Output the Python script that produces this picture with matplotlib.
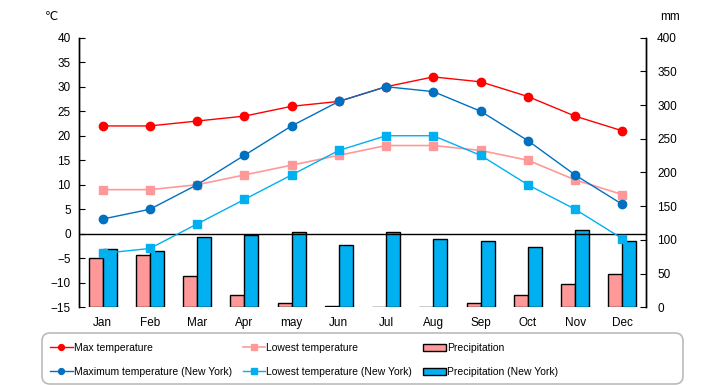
import matplotlib
matplotlib.use("Agg")
import matplotlib.pyplot as plt
from matplotlib.patches import FancyBboxPatch
from matplotlib.transforms import IdentityTransform
import numpy as np

plt.rcParams['font.family'] = ['Liberation Sans', 'DejaVu Sans', 'Noto Sans CJK JP']

months = ['Jan', 'Feb', 'Mar', 'Apr', 'may', 'Jun', 'Jul', 'Aug', 'Sep', 'Oct', 'Nov', 'Dec']

max_temp = [22, 22, 23, 24, 26, 27, 30, 32, 31, 28, 24, 21]
low_temp = [9, 9, 10, 12, 14, 16, 18, 18, 17, 15, 11, 8]
precip = [73, 77, 47, 19, 6, 2, 0.5, 0, 6, 18, 34, 50]

max_temp_ny = [3, 5, 10, 16, 22, 27, 30, 29, 25, 19, 12, 6]
low_temp_ny = [-4, -3, 2, 7, 12, 17, 20, 20, 16, 10, 5, -1]
precip_ny = [86, 83, 104, 107, 111, 92, 111, 102, 99, 89, 114, 99]


def main():
    fig = plt.figure(figsize=(7.2, 3.85), dpi=100)
    # temperature axis on the left, precipitation on the right
    ax_t = fig.add_axes([0.1097, 0.2018, 0.7875, 0.7003])
    ax_p = ax_t.twinx()

    ax_t.set_zorder(ax_p.get_zorder() + 1)
    ax_t.patch.set_visible(False)
    ax_p.set_facecolor('#FFFFCC')

    x = np.arange(len(months))
    w = 0.297

    # bars
    b1 = ax_p.bar(x - w / 2, precip, w, color='#FF9999', edgecolor='black', linewidth=1,
                  label='Precipitation')
    b2 = ax_p.bar(x + w / 2, precip_ny, w, color='#00B0F0', edgecolor='black', linewidth=1,
                  label='Precipitation (New York)')

    # zero line
    ax_t.axhline(0, color='black', linewidth=1, zorder=1)

    # lines
    l1, = ax_t.plot(x, max_temp, color='#FF0000', marker='o', markersize=6, linewidth=1,
                    label='Max temperature')
    l3, = ax_t.plot(x, low_temp, color='#FF9999', marker='s', markersize=6, linewidth=1.2,
                    label='Lowest temperature')
    l2, = ax_t.plot(x, max_temp_ny, color='#0070C0', marker='o', markersize=6, linewidth=1,
                    label='Maximum temperature (New York)')
    l4, = ax_t.plot(x, low_temp_ny, color='#00B0F0', marker='s', markersize=6, linewidth=1,
                    label='Lowest temperature (New York)')

    ax_t.set_xlim(-0.5, 11.5)
    ax_t.set_ylim(-15, 40)
    ax_t.set_yticks(range(-15, 41, 5))
    ax_p.set_ylim(0, 400)
    ax_p.set_yticks(range(0, 401, 50))

    ax_t.set_xticks(x)
    ax_t.set_xticklabels(months)
    ax_t.tick_params(axis='x', length=0, pad=7, labelsize=8.5)
    ax_t.tick_params(axis='y', direction='in', length=4, labelsize=8.5, pad=6)
    ax_p.tick_params(axis='y', direction='in', length=4, labelsize=8.5, pad=8)

    for a in (ax_t, ax_p):
        a.spines['top'].set_visible(False)
        a.spines['bottom'].set_visible(False)
        a.spines['left'].set_linewidth(1)
        a.spines['right'].set_linewidth(1)

    fig.text(52 / 720, 1 - 17 / 385, '℃', fontsize=8.5, ha='center', va='center')
    fig.text(670 / 720, 1 - 17 / 385, 'mm', fontsize=8.5, ha='center', va='center')

    # legend frame drawn separately so it can be wider than its content
    frame = FancyBboxPatch((42, 1), 641, 51, boxstyle='round,pad=0,rounding_size=8',
                           transform=IdentityTransform(), facecolor='white',
                           edgecolor='#BBBBBB', linewidth=1.2)
    fig.patches.append(frame)

    fig.legend([l1, l2, l3, l4, b1, b2],
               [h.get_label() for h in [l1, l2, l3, l4, b1, b2]],
               ncol=3, loc='upper left',
               bbox_to_anchor=(50 / 720, 1 - 343 / 385),
               fontsize=7.5, handlelength=2.2, handletextpad=0.1,
               markerscale=0.7, frameon=False, borderaxespad=0, borderpad=0,
               labelspacing=1.35, columnspacing=1.0)

    fig.savefig('out.png', dpi=100)


if __name__ == '__main__':
    main()
